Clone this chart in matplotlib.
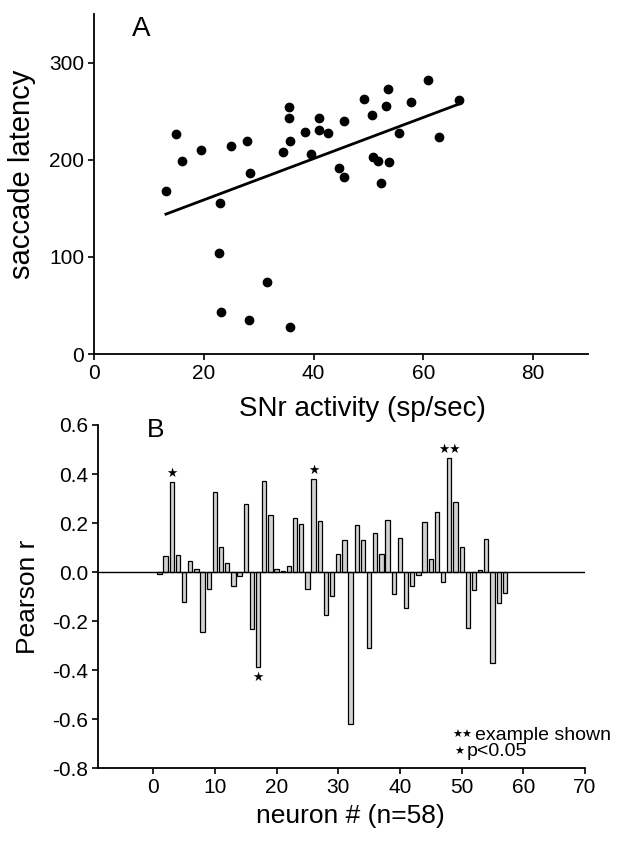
import matplotlib.pyplot as plt
import numpy as np

plt.rcParams['font.family'] = ['Liberation Sans', 'DejaVu Sans']

# Panel A: latency vs SNr activity
snr_activity = [14.9, 16.1, 19.4, 24.9, 27.8, 28.4, 13.1, 34.4, 35.6, 35.6,
                35.7, 38.4, 39.5, 40.9, 40.9, 42.6, 45.5, 44.6, 45.5, 49.1,
                50.7, 50.9, 51.8, 52.2, 53.1, 53.5, 53.7, 55.6, 57.8, 60.9,
                62.9, 66.4, 23.0, 22.8, 31.6, 23.1, 28.3, 35.7]
latency = [227, 199, 210, 214, 219, 186, 168, 208, 254, 243,
           219, 229, 206, 243, 231, 228, 240, 191, 182, 263,
           246, 203, 199, 176, 255, 273, 198, 228, 259, 282,
           223, 262, 155, 104, 74, 43, 35, 28]
fit_x = [13.1, 66.3]
fit_y = [144, 257]

# Panel B: Pearson r for every neuron
pearson_r = [-0.008, 0.067, 0.366, 0.069, -0.122, 0.047, 0.013, -0.246, -0.068, 0.325,
             0.102, 0.038, -0.058, -0.017, 0.276, -0.232, -0.385, 0.371, 0.234, 0.012,
             0.004, 0.027, 0.222, 0.197, -0.067, 0.380, 0.207, -0.174, -0.099, 0.074,
             0.133, -0.620, 0.193, 0.133, -0.308, 0.160, 0.075, 0.213, -0.089, 0.139,
             -0.147, -0.056, -0.011, 0.204, 0.053, 0.245, -0.040, 0.465, 0.287, 0.102,
             -0.229, -0.073, 0.010, 0.136, -0.371, -0.124, -0.084]
neuron = np.arange(1, len(pearson_r) + 1)
one_star = [3, 17, 26]
two_star = [48]
r_ticks = [-0.8, -0.6, -0.4, -0.2, 0.0, 0.2, 0.4, 0.6]

fig = plt.figure(figsize=(6.2, 8.52), dpi=100)

def style(ax):
    ax.spines['top'].set_visible(False)
    ax.spines['right'].set_visible(False)
    ax.spines['left'].set_linewidth(1.3)
    ax.spines['bottom'].set_linewidth(1.3)
    ax.tick_params(direction='out', length=4, width=1.2, labelsize=15, pad=3)

# --- A ---
ax1 = fig.add_axes([0.1516, 0.5845, 0.797, 0.399])
style(ax1)
ax1.scatter(snr_activity, latency, s=36, color='black', zorder=3)
ax1.plot(fit_x, fit_y, color='black', lw=2)
ax1.set_xlim(0, 90)
ax1.set_ylim(0, 350)
ax1.set_xticks([0, 20, 40, 60, 80])
ax1.set_yticks([0, 100, 200, 300])
ax1.set_xlabel('SNr activity (sp/sec)', fontsize=20)
ax1.set_ylabel('saccade latency', fontsize=21)
ax1.xaxis.set_label_coords(0.5435, -0.125)
ax1.yaxis.set_label_coords(-0.118, 0.53)
ax1.text(6.9, 348, 'A', fontsize=20, ha='left', va='top')

# --- B ---
ax2 = fig.add_axes([0.1576, 0.0982, 0.786, 0.403])
style(ax2)
ax2.bar(neuron, pearson_r, width=0.7, color='#d2d2d2', edgecolor='black', linewidth=0.9, zorder=2)
ax2.axhline(0, color='black', lw=1, zorder=3)
ax2.set_xlim(-9, 70)
ax2.set_ylim(-0.8, 0.6)
ax2.set_xticks(np.arange(0, 71, 10))
ax2.set_yticks(r_ticks)
ax2.set_yticklabels(['%.1f' % v for v in r_ticks])
ax2.set_xlabel('neuron # (n=58)', fontsize=19)
ax2.set_ylabel('Pearson r', fontsize=19)
ax2.xaxis.set_label_coords(0.518, -0.105)
ax2.yaxis.set_label_coords(-0.118, 0.5)
ax2.text(-1.1, 0.63, 'B', fontsize=19, ha='left', va='top')

# significance stars
for n in one_star:
    r = pearson_r[n - 1]
    off = 0.035 if r > 0 else -0.045
    ax2.text(n, r + off, '★', family='DejaVu Sans', fontsize=9, ha='center', va='center')
for n in two_star:
    r = pearson_r[n - 1]
    ax2.text(n, r + 0.035, '★★', family='DejaVu Sans', fontsize=9, ha='center', va='center')

fig.text(452 / 620, 1 - 735 / 852, '★★', family='DejaVu Sans', fontsize=8, va='center')
fig.text(475 / 620, 1 - 735 / 852, 'example shown', fontsize=14, va='center')
fig.text(454 / 620, 1 - 752 / 852, '★', family='DejaVu Sans', fontsize=8, va='center')
fig.text(467 / 620, 1 - 752 / 852, 'p<0.05', fontsize=14, va='center')

fig.savefig('out.png', dpi=100)
